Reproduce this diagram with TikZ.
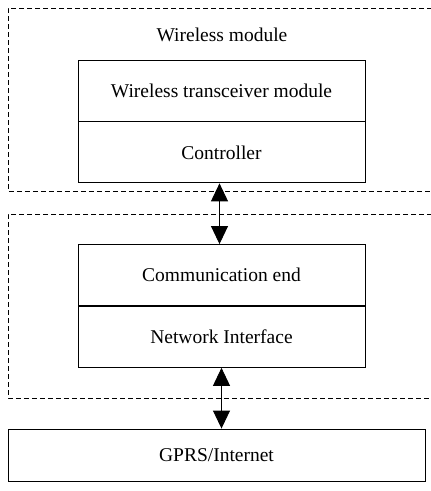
\documentclass[tikz,border=0pt]{standalone}
\usepackage{fontspec}
\setmainfont{Liberation Serif}
\usetikzlibrary{arrows.meta}
\begin{document}
\begin{tikzpicture}[x=1pt,y=-1pt,
  block/.style={draw,line width=0.9pt,minimum width=287pt,minimum height=61pt,
    inner sep=0pt,font=\fontsize{19.5}{22}\selectfont},
  region/.style={draw,line width=0.9pt,dash pattern=on 5pt off 3pt},
  link/.style={line width=0.9pt,{Triangle[width=17pt,length=18pt]}-{Triangle[width=17pt,length=18pt]}}]
\useasboundingbox (0,0) rectangle (431,491);
\begin{scope}
\clip (0,0) rectangle (431,491);
% dashed enclosures, open on the right
\draw[region] (440,8) -- (8,8) -- (8,191) -- (440,191);
\draw[region] (440,214) -- (8,214) -- (8,398) -- (440,398);
\end{scope}
\node[font=\fontsize{19.5}{22}\selectfont] (title) at (222,35) {Wireless module};
% wireless module stack
\node[block] (wtm) at (221.5,90.5) {Wireless transceiver module};
\node[block,anchor=north] (ctrl) at (wtm.south) {Controller};
% communication end stack
\node[block] (comm) at (221.5,275) {Communication end};
\node[block,anchor=north] (netif) at (comm.south) {Network Interface};
% external network
\node[block,minimum width=417pt,minimum height=52pt] (gprs) at (216.5,455) {GPRS/Internet};
\draw[link] ([xshift=-2pt]ctrl.south) -- ([xshift=-2pt]comm.north);
\draw[link] (netif.south) -- (netif.south |- gprs.north);
\end{tikzpicture}
\end{document}
